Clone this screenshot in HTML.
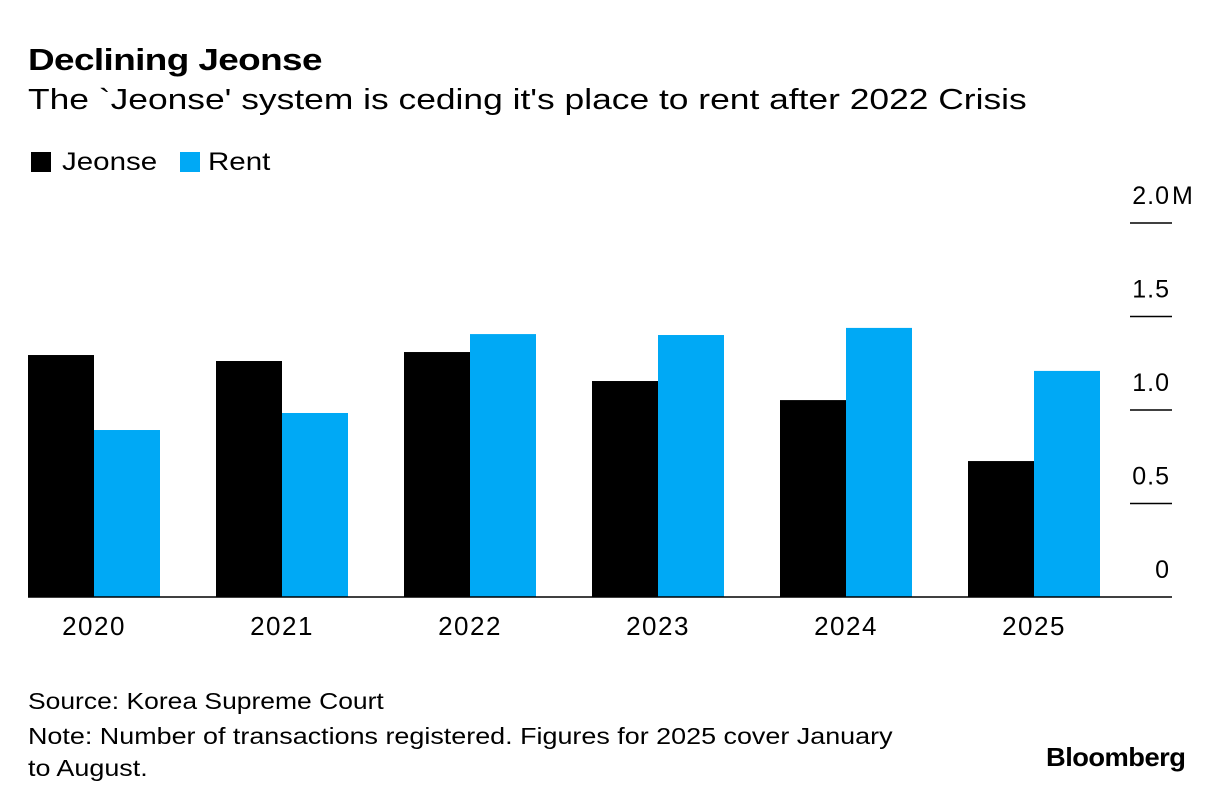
<!DOCTYPE html>
<html><head><meta charset="utf-8"><style>
body{margin:0;background:#fff;font-family:"Liberation Sans",Arial,sans-serif;}
#wrap{position:relative;width:1224px;height:802px;overflow:hidden;}
.t{position:absolute;white-space:nowrap;color:#000;transform-origin:left top;}
</style></head><body>
<div id="wrap">
<div class="t" style="left:28px;top:42px;font-size:31px;font-weight:bold;letter-spacing:-0.5px;transform:scaleX(1.19)">Declining Jeonse</div>
<div class="t" style="left:28px;top:84px;font-size:29px;transform:scaleX(1.22)">The `Jeonse' system is ceding it's place to rent after 2022 Crisis</div>
<div style="position:absolute;left:31px;top:152px;width:20px;height:20px;background:#000"></div>
<div class="t" style="left:62px;top:148px;font-size:25px;transform:scaleX(1.18)">Jeonse</div>
<div style="position:absolute;left:180px;top:152px;width:20px;height:20px;background:#00a9f5"></div>
<div class="t" style="left:208px;top:148px;font-size:25px;transform:scaleX(1.18)">Rent</div>
<svg id="chart" width="1224" height="802" style="position:absolute;left:0;top:0"></svg>
<div class="t" style="left:28px;top:688px;font-size:23px;transform:scaleX(1.15)">Source: Korea Supreme Court</div>
<div class="t" style="left:28px;top:720px;font-size:23px;line-height:32px;transform:scaleX(1.17)">Note: Number of transactions registered. Figures for 2025 cover January<br>to August.</div>
<div class="t" style="left:1046px;top:742px;font-size:26px;font-weight:bold;letter-spacing:-0.5px;transform:scaleX(1.05)">Bloomberg</div>
</div>
<script>
const years=["2020","2021","2022","2023","2024","2025"];
const jeonse=[1.294,1.262,1.310,1.155,1.053,0.727];
const rent=[0.893,0.984,1.406,1.401,1.439,1.209];
const ticks=[0,0.5,1.0,1.5,2.0];
const tickLabels=["0","0.5","1.0","1.5","2.0"];
const tickSuffix=["","","","","M"];
const NS="http://www.w3.org/2000/svg";
const svg=document.getElementById('chart');
const y0=597,pxPer=187;
const yScale=v=>y0-v*pxPer;
const xGroup=i=>28+i*188;
const bw=66;
const FONT='Liberation Sans, Arial, sans-serif';
function mk(tag,attrs){const e=document.createElementNS(NS,tag);for(const k in attrs)e.setAttribute(k,attrs[k]);svg.appendChild(e);return e;}
ticks.forEach((t,i)=>{
 if(t>0){const l=mk('line',{x1:1130,x2:1172,y1:yScale(t),y2:yScale(t),stroke:'#000','stroke-width':1.5});
 
 }
 const tx=mk('text',{x:1170,y:yScale(t)-19,'text-anchor':'end','font-size':25,'letter-spacing':1,'font-family':FONT});
 tx.textContent=tickLabels[i];
 
 
 if(tickSuffix[i]){
  const s=mk('text',{x:1172,y:yScale(t)-19,'font-size':25,'font-family':FONT});
  s.textContent=tickSuffix[i];
  
  
 }
});
years.forEach((yr,i)=>{
 const x=xGroup(i);
 const a=mk('rect',{x:x,y:yScale(jeonse[i]),width:bw,height:jeonse[i]*pxPer,fill:'#000'});
 
 
 const b=mk('rect',{x:x+bw,y:yScale(rent[i]),width:bw,height:rent[i]*pxPer,fill:'#00a9f5'});
 
 
 const t=mk('text',{x:x+bw,y:635,'text-anchor':'middle','font-size':26,'letter-spacing':1.5,'font-family':FONT});
 t.textContent=yr;
 
 
});
const base=mk('line',{x1:28,x2:1172,y1:y0,y2:y0,stroke:'#000','stroke-width':1.5});


</script>
</body></html>
